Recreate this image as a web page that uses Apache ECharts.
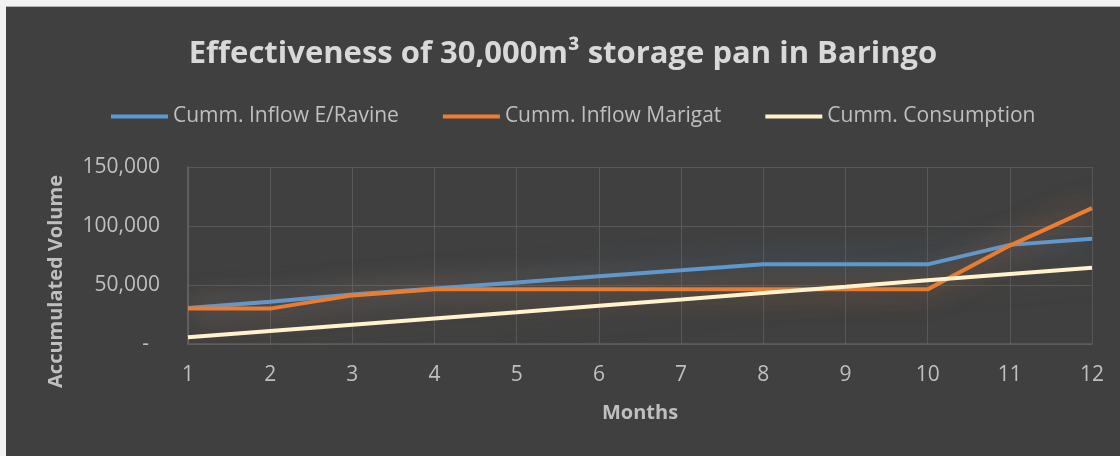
<!DOCTYPE html>
<html>
<head>
<meta charset="utf-8">
<script src="https://cdn.jsdelivr.net/npm/echarts@6/dist/echarts.min.js"></script>
<style>
  html, body { margin: 0; padding: 0; background: #f2f2f2; width: 1120px; height: 456px; overflow: hidden; }
  #chart { position: absolute; left: 6px; top: 6px; width: 1114px; height: 450px; background: #404040; border-top: 1px solid #b0b0b0; box-sizing: border-box; }
</style>
</head>
<body>
<div id="chart"></div>
<script>
const months = ['1','2','3','4','5','6','7','8','9','10','11','12'];
const inflowRavine = [30500, 35800, 42000, 47000, 52100, 57400, 62400, 67500, 67500, 67500, 84000, 89100];
const inflowMarigat = [30000, 30000, 41200, 46300, 46300, 46300, 46300, 46300, 46300, 46300, 83400, 115100];
const consumption = [5700, 11100, 16400, 21700, 27000, 32400, 37800, 43300, 48600, 54000, 59400, 64700];
const yTicks = { min: 0, max: 150000, interval: 50000 };

const FONT = 'Open Sans';
const chart = echarts.init(document.getElementById('chart'), null, { renderer: 'canvas' });

function mkSeries(name, data, color, glow) {
  return {
    name: name, type: 'line', data: data, symbol: 'none', smooth: false,
    lineStyle: { color: color, width: 4, shadowBlur: 28, shadowColor: glow, shadowOffsetY: 0 },
    itemStyle: { color: color },
    emphasis: { disabled: true }
  };
}

chart.setOption({
  backgroundColor: '#404040',
  animation: false,
  title: {
    text: 'Effectiveness of 30,000m³ storage pan in Baringo',
    left: 'center', top: 27,
    textStyle: { color: '#d9d9d9', fontFamily: FONT, fontWeight: 'bold', fontSize: 31 }
  },
  legend: {
    top: 94, left: 100,
    icon: 'rect', itemWidth: 57, itemHeight: 4, itemGap: 44,
    textStyle: { color: '#bfbfbf', fontFamily: FONT, fontSize: 21 },
    data: ['Cumm. Inflow E/Ravine', 'Cumm. Inflow Marigat', 'Cumm. Consumption']
  },
  grid: { left: 182, right: 28, top: 160, bottom: 112, containLabel: false },
  xAxis: {
    type: 'category', data: months, boundaryGap: false,
    name: 'Months', nameLocation: 'middle', nameGap: 59,
    nameTextStyle: { color: '#bfbfbf', fontFamily: FONT, fontWeight: 'bold', fontSize: 20 },
    axisLine: { show: true, lineStyle: { color: '#5e5e5e', width: 1.5 } },
    axisTick: { show: false },
    axisLabel: { color: '#bfbfbf', fontFamily: FONT, fontSize: 21, margin: 21 },
    splitLine: { show: true, lineStyle: { color: '#585858', width: 1 } }
  },
  yAxis: {
    type: 'value', min: yTicks.min, max: yTicks.max, interval: yTicks.interval,
    name: 'Accumulated Volume', nameLocation: 'middle', nameGap: 122, nameRotate: 90,
    nameTextStyle: { color: '#bfbfbf', fontFamily: FONT, fontWeight: 'bold', fontSize: 20, padding: [0, 52, 0, 0] },
    axisLine: { show: true, lineStyle: { color: '#666666', width: 1.5 } },
    axisTick: { show: false },
    axisLabel: {
      color: '#bfbfbf', fontFamily: FONT, fontSize: 21, margin: 28,
      formatter: function (v) { return v === 0 ? '-  ' : v.toLocaleString('en-US'); }
    },
    splitLine: { show: true, lineStyle: { color: '#585858', width: 1 } }
  },
  series: [
    mkSeries('Cumm. Inflow E/Ravine', inflowRavine, '#5b9bd5', 'rgba(91,155,213,0.65)'),
    mkSeries('Cumm. Inflow Marigat', inflowMarigat, '#ed7d31', 'rgba(237,125,49,0.65)'),
    mkSeries('Cumm. Consumption', consumption, '#fff2cc', 'rgba(120,110,90,0.5)')
  ]
});
</script>
</body>
</html>
